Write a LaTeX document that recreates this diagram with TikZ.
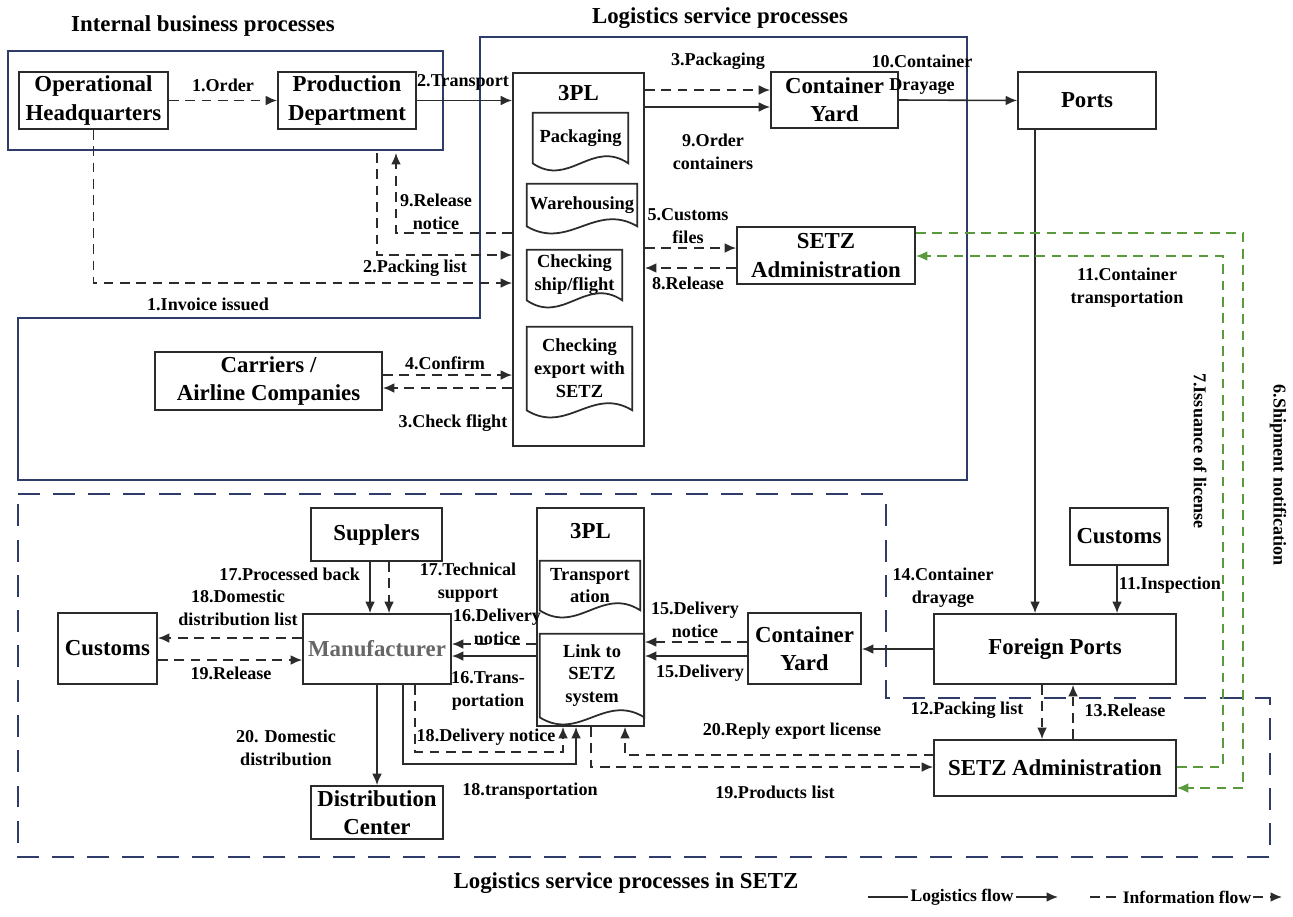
\documentclass[tikz,border=0pt]{standalone}
\usepackage{fontspec}
\setmainfont{Liberation Serif}
\usetikzlibrary{arrows.meta,calc}

\definecolor{framenavy}{HTML}{2F3C6A}
\definecolor{flowgreen}{HTML}{5A9A3C}
\definecolor{linegray}{HTML}{2B2B2B}

\tikzset{
  box/.style={draw=linegray, line width=1pt, fill=white, align=center, inner sep=1pt, font=\fontsize{13}{16}\selectfont\bfseries},
  docnode/.style={align=center, inner sep=1pt, font=\fontsize{10.5}{13}\selectfont\bfseries},
  lbl/.style={align=center, inner sep=1pt, font=\fontsize{10.3}{13.2}\selectfont\bfseries},
  heading/.style={inner sep=1pt, font=\fontsize{13}{16}\selectfont\bfseries},
  flow/.style={draw=linegray, line width=0.9pt, -{Latex[length=6.5pt,width=5.5pt]}},
  info/.style={flow, dash pattern=on 5.5pt off 3.8pt},
  ginfo/.style={info, draw=flowgreen},
  zoneline/.style={draw=framenavy, line width=1.5pt},
}

\newcommand{\wavedoc}[1]{%
  \draw[linegray, line width=1pt] (#1.north west) -- (#1.north east) -- (#1.south east)
    .. controls ($(#1.south west)!0.62!(#1.south east)+(0,14pt)$) and ($(#1.south west)!0.38!(#1.south east)+(0,-14pt)$) .. (#1.south west) -- cycle;}

\begin{document}
\begin{tikzpicture}[x=0.02cm, y=-0.02cm]
\useasboundingbox (0,0) rectangle (1293,916);

\draw[zoneline] (8,51) rectangle (443,150);
\draw[zoneline] (480,37) -- (967,37) -- (967,480) -- (18,480) -- (18,318) -- (480,318) -- cycle;
\draw[zoneline, dash pattern=on 12.5pt off 7.5pt] (18,494) -- (886,494) -- (886,698) -- (1270,698) -- (1270,857) -- (18,857) -- cycle;

\node[heading] (t1) at (203,26) {Internal business processes};
\node[heading] (t2) at (720,18) {Logistics service processes};
\node[heading] (t3) at (626,883) {Logistics service processes in SETZ};

\node[box, minimum width=2.98cm, minimum height=1.14cm] (oh) at (93.5,100.5) {Operational\\Headquarters};
\node[box, minimum width=2.76cm, minimum height=1.14cm] (pd) at (347,100.5) {Production\\Department};
\node[box, minimum width=2.62cm, minimum height=7.46cm] (tplA) at (578.5,259.5) {};
\node[heading] (tplAname) at (578.5,93) {3PL};
\node[docnode, minimum width=1.9cm, minimum height=1.0cm] (pack) at (580.5,138) {Packaging};
\node[docnode, minimum width=2.2cm, minimum height=0.84cm] (ware) at (582,205) {Warehousing};
\node[docnode, minimum width=1.9cm, minimum height=1.0cm] (chkship) at (574.5,275) {Checking\\ship/flight};
\node[docnode, minimum width=2.1cm, minimum height=1.66cm] (chksetz) at (579.5,368.5) {Checking\\export with\\SETZ};
\wavedoc{pack}
\wavedoc{ware}
\wavedoc{chkship}
\wavedoc{chksetz}
\node[box, minimum width=2.54cm, minimum height=1.12cm] (cyA) at (834.5,100) {Container\\Yard};
\node[box, minimum width=2.76cm, minimum height=1.14cm] (ports) at (1087,100.5) {Ports};
\node[box, minimum width=3.56cm, minimum height=1.14cm] (setzA) at (826,255.5) {SETZ\\Administration};
\node[box, minimum width=4.54cm, minimum height=1.16cm] (carr) at (268.5,381) {Carriers /\\Airline Companies};

\node[box, minimum width=2.62cm, minimum height=1.06cm] (supp) at (376.5,534.5) {Supplers};
\node[box, minimum width=1.98cm, minimum height=1.42cm] (custL) at (107.5,648.5) {Customs};
\node[box, minimum width=2.96cm, minimum height=1.4cm, text=black!60] (manuf) at (377,649) {Manufacturer};
\node[box, minimum width=2.64cm, minimum height=1.06cm] (distc) at (377,812.5) {Distribution\\Center};
\node[box, minimum width=2.14cm, minimum height=4.36cm] (tplB) at (590.5,617) {};
\node[heading] (tplBname) at (590.5,531) {3PL};
\node[docnode, minimum width=2.0cm, minimum height=0.98cm] (trans) at (590,585.5) {Transport\\ation};
\node[docnode, minimum width=2.08cm, minimum height=1.66cm] (link) at (592,675.5) {Link to\\SETZ\\system};
\wavedoc{trans}
\wavedoc{link}
\node[box, minimum width=2.26cm, minimum height=1.42cm] (cyB) at (804.5,648.5) {Container\\Yard};
\node[box, minimum width=4.84cm, minimum height=1.4cm] (fports) at (1055,649) {Foreign Ports};
\node[box, minimum width=1.96cm, minimum height=1.14cm] (custR) at (1119,536.5) {Customs};
\node[box, minimum width=4.84cm, minimum height=1.12cm] (setzB) at (1055,768) {SETZ Administration};

\coordinate (pdfoot) at (347,153);
\draw[info] (oh.east) -- (pd.west);
\draw[flow] (pd.east) -- (tplA.west |- pd.east);
\draw[info] (tplA.east |- 0,90) -- (cyA.west |- 0,90);
\draw[flow] (tplA.east |- 0,107) -- (cyA.west |- 0,107);
\draw[flow] (cyA.east) -- (ports.west);
\draw[flow] (ports.south -| 1035,0) -- (fports.north -| 1035,0);
\draw[info] (oh.south) |- (tplA.west |- 0,283);
\draw[info] (pdfoot -| 377,0) |- (tplA.west |- 0,255);
\draw[info] (tplA.west |- 0,233) -| (pdfoot -| 396,0);
\draw[info] (tplA.east |- 0,248) -- (setzA.west |- 0,248);
\draw[info] (setzA.west |- 0,268) -- (tplA.east |- 0,268);
\draw[info] (carr.east |- 0,375) -- (tplA.west |- 0,375);
\draw[info] (tplA.west |- 0,388) -- (carr.east |- 0,388);
\draw[ginfo] (setzA.east |- 0,233) -| (1243,788) -- (setzB.east |- 0,788);
\draw[ginfo] (setzB.east |- 0,767) -| (1223,256) -- (setzA.east |- 0,256);

\draw[flow] (supp.south -| 370,0) -- (manuf.north -| 370,0);
\draw[info] (supp.south -| 389,0) -- (manuf.north -| 389,0);
\draw[info] (manuf.west |- 0,638) -- (custL.east |- 0,638);
\draw[info] (custL.east |- 0,660) -- (manuf.west |- 0,660);
\draw[info] (tplB.west |- 0,644) -- (manuf.east |- 0,644);
\draw[flow] (tplB.west |- 0,656) -- (manuf.east |- 0,656);
\draw[flow] (manuf.south) -- (distc.north);
\draw[info] (manuf.south -| 415,0) |- (563,752) -- (tplB.south -| 563,0);
\draw[flow] (manuf.south -| 403,0) |- (576,764) -- (tplB.south -| 576,0);
\draw[info] (tplB.south -| 591,0) |- (setzB.west |- 0,767);
\draw[info] (setzB.west |- 0,755) -| (tplB.south -| 625,0);
\draw[flow] (fports.west) -- (cyB.east |- fports.west);
\draw[flow] (custR.south -| 1117,0) -- (fports.north -| 1117,0);
\draw[info] (cyB.west |- 0,642) -- (tplB.east |- 0,642);
\draw[flow] (cyB.west |- 0,656) -- (tplB.east |- 0,656);
\draw[info] (fports.south -| 1042,0) -- (setzB.north -| 1042,0);
\draw[info] (setzB.north -| 1073,0) -- (fports.south -| 1073,0);

\node[lbl] (l1) at (223,85) {1.Order};
\node[lbl] (l2) at (463,82) {2.Transport};
\node[lbl] (l3) at (718,61) {3.Packaging};
\node[lbl] (l4) at (713,152) {9.Order\\containers};
\node[lbl] (l5) at (922,75) {10.Container\\Drayage};
\node[lbl] (l6) at (1127,288) {11.Container\\transportation};
\node[lbl] (l7) at (436,212) {9.Release\\notice};
\node[lbl] (l8) at (415,268) {2.Packing list};
\node[lbl] (l9) at (208,304) {1.Invoice issued};
\node[lbl] (l10) at (688,226) {5.Customs\\files};
\node[lbl] (l11) at (688,283) {8.Release};
\node[lbl] (l12) at (445,363) {4.Confirm};
\node[lbl] (l13) at (453,423) {3.Check flight};
\node[lbl, rotate=-90] (l14) at (1278,475) {6.Shipment notification};
\node[lbl, rotate=-90] (l15) at (1200,451) {7.Issuance of license};

\node[lbl, anchor=east] (l16) at (362,574) {17.Processed back};
\node[lbl] (l17) at (468,583) {17.Technical\\support};
\node[lbl] (l18) at (238,608) {18.Domestic\\distribution list};
\node[lbl] (l19) at (231,673) {19.Release};
\node[lbl] (l20) at (497,627) {16.Delivery\\notice};
\node[lbl] (l21) at (488,691) {16.Trans-\\portation};
\node[lbl] (l22) at (286,748) {20. Domestic\\distribution};
\node[lbl] (l23) at (486,737) {18.Delivery notice};
\node[lbl] (l24) at (530,791) {18.transportation};
\node[lbl] (l25) at (695,620) {15.Delivery\\notice};
\node[lbl] (l26) at (700,673) {15.Delivery};
\node[lbl] (l27) at (792,731) {20.Reply export license};
\node[lbl] (l28) at (775,792) {19.Products list};
\node[lbl] (l29) at (943,588) {14.Container\\drayage};
\node[lbl] (l30) at (1170,585) {11.Inspection};
\node[lbl] (l31) at (967,710) {12.Packing list};
\node[lbl] (l32) at (1125,710) {13.Release};

\node[lbl, font=\fontsize{10}{12}\selectfont\bfseries] (legL) at (962,897) {Logistics flow};
\node[lbl, font=\fontsize{10}{12}\selectfont\bfseries] (legI) at (1187,897) {Information flow};
\coordinate (legLa) at (868,897);
\coordinate (legLb) at (1058,897);
\coordinate (legIa) at (1090,897);
\coordinate (legIb) at (1282,897);
\draw[linegray, line width=0.9pt] (legLa) -- (legL.west);
\draw[flow] (legL.east) -- (legLb);
\draw[info, -] (legIa) -- (legI.west);
\draw[info] (legI.east) -- (legIb);
\end{tikzpicture}
\end{document}
